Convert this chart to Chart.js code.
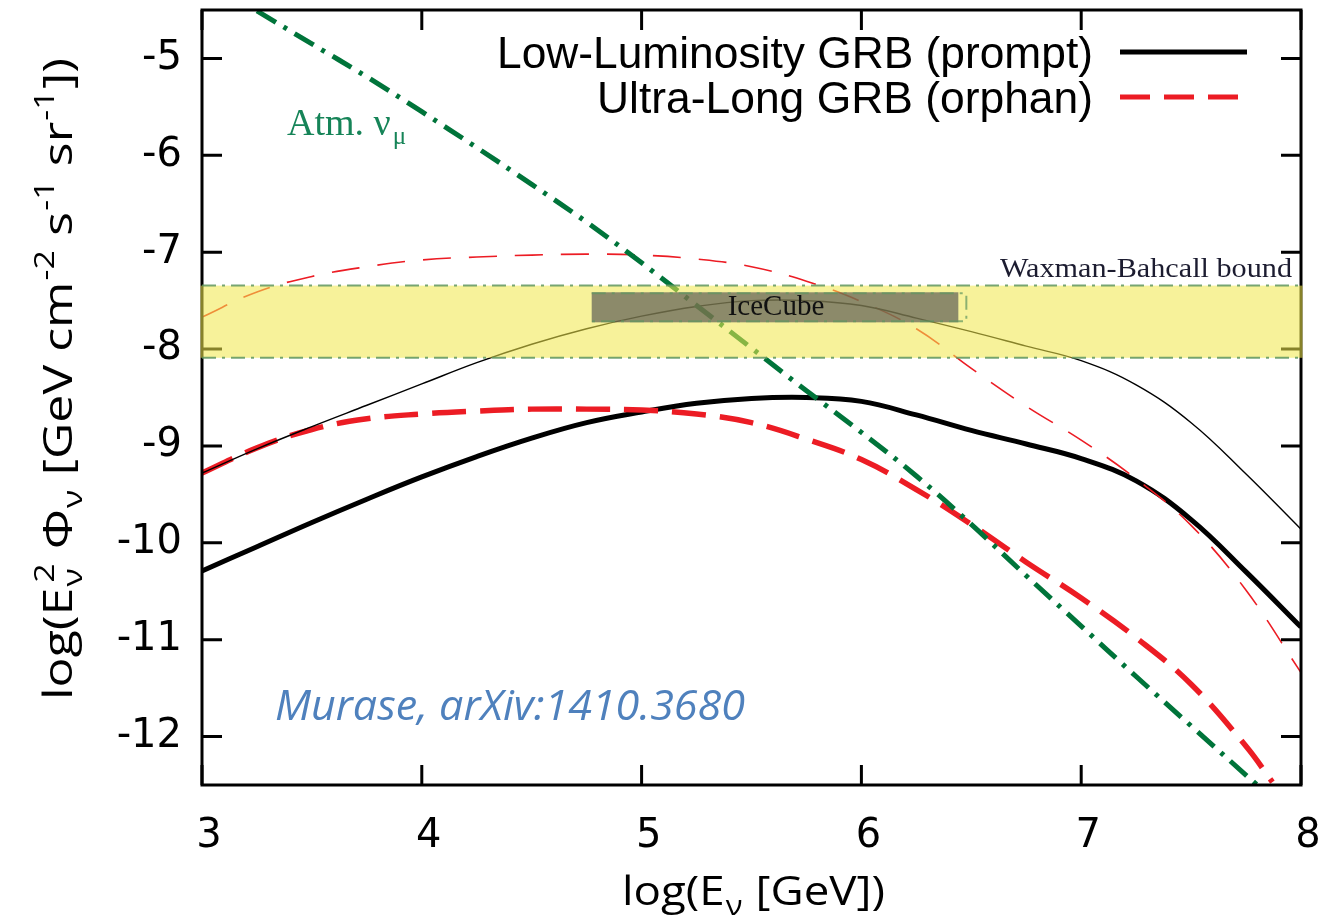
<!DOCTYPE html>
<html>
<head>
<meta charset="utf-8">
<script src="https://cdn.jsdelivr.net/npm/chart.js@4.4.1/dist/chart.umd.min.js"></script>
<style>
  html, body { margin: 0; padding: 0; background: #fff; }
</style>
</head>
<body>
<canvas id="fluxChart" width="1325" height="919"></canvas>
<script>
// axis ticks
const xTicks = [3, 4, 5, 6, 7, 8];
const yTicks = [-12, -11, -10, -9, -8, -7, -6, -5];

// log10(E / GeV) grid shared by the model curves
const logE = [3.0, 3.25, 3.5, 3.75, 4.0, 4.25, 4.5, 4.75, 5.0, 5.25, 5.5, 5.75, 6.0, 6.25, 6.5, 6.75, 7.0, 7.25, 7.5, 7.75, 8.0];

// Low-luminosity GRB, prompt (thick solid)
const llPrompt   = [-10.29, -10.04, -9.79, -9.55, -9.32, -9.11, -8.92, -8.76, -8.65, -8.56, -8.51, -8.50, -8.54, -8.68, -8.84, -8.98, -9.13, -9.36, -9.76, -10.30, -10.87];
// Low-luminosity GRB, prompt (thin solid)
const llPromptHi = [-9.28, -9.03, -8.80, -8.58, -8.36, -8.14, -7.95, -7.79, -7.66, -7.56, -7.50, -7.50, -7.55, -7.68, -7.82, -7.97, -8.12, -8.37, -8.76, -9.29, -9.86];
// Ultra-long GRB, orphan (thin dashed)
const ulOrphanHi = [-7.67, -7.41, -7.25, -7.15, -7.08, -7.05, -7.03, -7.02, -7.03, -7.07, -7.15, -7.30, -7.51, -7.79, -8.20, -8.59, -8.94, -9.34, -9.82, -10.49, -11.34];

// Ultra-long GRB, orphan (thick dashed) runs out through the bottom of the frame
const ulOrphanE    = [3.0, 3.25, 3.5, 3.75, 4.0, 4.25, 4.5, 4.75, 5.0, 5.25, 5.5, 5.75, 6.0, 6.25, 6.5, 6.75, 7.0, 7.25, 7.5, 7.75, 7.87];
const ulOrphanFlux = [-9.28, -9.02, -8.83, -8.72, -8.67, -8.64, -8.62, -8.62, -8.63, -8.67, -8.76, -8.93, -9.14, -9.45, -9.81, -10.20, -10.57, -10.98, -11.46, -12.10, -12.47];

// atmospheric muon neutrinos
const atmE    = [3.25, 3.5, 3.75, 4.0, 4.25, 4.5, 4.75, 5.0, 5.25, 5.5, 5.75, 6.0, 6.25, 6.5, 6.75, 7.0, 7.25, 7.5, 7.8];
const atmFlux = [-4.51, -4.85, -5.19, -5.55, -5.92, -6.30, -6.69, -7.11, -7.55, -7.99, -8.43, -8.86, -9.31, -9.81, -10.34, -10.86, -11.38, -11.89, -12.50];

// Waxman-Bahcall band and IceCube box (log E, log flux)
const wbBand = [-7.345, -8.09];
const iceCubeE = [4.773, 6.441];
const iceCubeFlux = [-7.414, -7.724];

const legendLabels = ['Low-Luminosity GRB (prompt)', 'Ultra-Long GRB (orphan)'];

const pts = (xs, ys) => xs.map((v, i) => ({ x: v, y: ys[i] }));

const RED = 'rgb(236,28,36)';
const GREEN = 'rgb(0,116,58)';

function line(data, color, width, dash) {
  return {
    data, borderColor: color, borderWidth: width, borderDash: dash || [],
    pointRadius: 0, fill: false, tension: 0.4, borderCapStyle: 'butt'
  };
}

const datasets = [
  line(pts(atmE, atmFlux), GREEN, 5, [22, 9, 4, 9]),
  line(pts(logE, llPromptHi), '#000', 1.4),
  line(pts(logE, ulOrphanHi), RED, 1.6, [28, 18]),
  line(pts(ulOrphanE, ulOrphanFlux), RED, 5.5, [34, 14]),
  line(pts(logE, llPrompt), '#000', 5)
];

// text squeezed/stretched horizontally to a given width
function fitText(ctx, text, x, y, width, font, align) {
  ctx.font = font;
  const k = width / ctx.measureText(text).width;
  ctx.save();
  ctx.translate(x, y);
  ctx.scale(k, 1);
  ctx.textAlign = align || 'left';
  ctx.textBaseline = 'alphabetic';
  ctx.fillText(text, 0, 0);
  ctx.restore();
}

// text with sub/superscripts; returns its width
function rich(ctx, parts, size, family, draw) {
  let x = 0;
  for (const [t, kind] of parts) {
    if (kind === 'n') {
      ctx.font = size + 'px ' + family;
      if (draw) ctx.fillText(t, x, 0);
      x += ctx.measureText(t).width;
    } else if (kind === 'sub' || kind === 'sup') {
      ctx.font = (size * 0.68) + 'px ' + family;
      const dy = kind === 'sub' ? size * 0.26 : -size * 0.45;
      if (draw) ctx.fillText(t, x + 1, dy);
      x += ctx.measureText(t).width + 2;
    } else if (kind === 'subsup') {
      const [a, b] = t.split('|');
      ctx.font = (size * 0.68) + 'px ' + family;
      if (draw) {
        ctx.fillText(a, x + 1, size * 0.26);
        ctx.fillText(b, x + 4, -size * 0.45);
      }
      x += Math.max(ctx.measureText(a).width, ctx.measureText(b).width + 3) + 2;
    }
  }
  return x;
}

function drawRich(ctx, parts, x, y, width, size, family, angle) {
  ctx.save();
  const w = rich(ctx, parts, size, family, false);
  ctx.translate(x, y);
  if (angle) ctx.rotate(angle);
  ctx.scale(width / w, 1);
  ctx.textBaseline = 'alphabetic';
  ctx.textAlign = 'left';
  rich(ctx, parts, size, family, true);
  ctx.restore();
}

const decorations = {
  id: 'decorations',
  afterDatasetsDraw(chart) {
    const { ctx, chartArea: a, scales: { x, y } } = chart;
    ctx.save();

    // frame with inward ticks on all four sides
    ctx.strokeStyle = '#000';
    ctx.lineWidth = 3;
    ctx.strokeRect(a.left, a.top, a.right - a.left, a.bottom - a.top);
    ctx.beginPath();
    xTicks.forEach(v => {
      const px = x.getPixelForValue(v);
      ctx.moveTo(px, a.bottom); ctx.lineTo(px, a.bottom - 20);
      ctx.moveTo(px, a.top); ctx.lineTo(px, a.top + 20);
    });
    yTicks.forEach(v => {
      const py = y.getPixelForValue(v);
      ctx.moveTo(a.left, py); ctx.lineTo(a.left + 20, py);
      ctx.moveTo(a.right, py); ctx.lineTo(a.right - 20, py);
    });
    ctx.stroke();

    // Waxman-Bahcall band
    const bTop = y.getPixelForValue(wbBand[0]);
    const bBot = y.getPixelForValue(wbBand[1]);
    ctx.fillStyle = 'rgba(241,232,75,0.56)';
    ctx.fillRect(a.left - 1.5, bTop, a.right - a.left + 3, bBot - bTop);
    ctx.strokeStyle = 'rgba(95,150,95,0.85)';
    ctx.lineWidth = 2;
    ctx.setLineDash([14, 6, 3, 6]);
    ctx.beginPath();
    ctx.moveTo(a.left, bTop); ctx.lineTo(a.right, bTop);
    ctx.moveTo(a.left, bBot); ctx.lineTo(a.right, bBot);
    ctx.stroke();

    // IceCube box
    const ix0 = x.getPixelForValue(iceCubeE[0]);
    const ix1 = x.getPixelForValue(iceCubeE[1]);
    const iy0 = y.getPixelForValue(iceCubeFlux[0]);
    const iy1 = y.getPixelForValue(iceCubeFlux[1]);
    ctx.fillStyle = 'rgba(78,78,78,0.64)';
    ctx.fillRect(ix0, iy0, ix1 - ix0, iy1 - iy0);
    ctx.strokeStyle = 'rgba(95,150,95,0.7)';
    ctx.beginPath();
    ctx.moveTo(ix0, iy0 + 1); ctx.lineTo(ix1 + 8, iy0 + 1); ctx.lineTo(ix1 + 8, iy1 - 1); ctx.lineTo(ix0, iy1 - 1);
    ctx.stroke();
    ctx.setLineDash([]);

    ctx.fillStyle = '#111';
    ctx.font = '29px "Liberation Serif"';
    ctx.textAlign = 'center';
    ctx.fillText('IceCube', (ix0 + ix1) / 2 + 1, iy1 - 7);

    ctx.fillStyle = '#1c1c30';
    fitText(ctx, 'Waxman-Bahcall bound', a.right - 9, bTop - 9, 292, '27px "Liberation Serif"', 'right');

    // atmospheric label
    ctx.fillStyle = 'rgb(22,132,88)';
    ctx.textAlign = 'left';
    ctx.font = '38px "Liberation Serif"';
    ctx.fillText('Atm. ν', 287, 135);
    const w = ctx.measureText('Atm. ν').width;
    ctx.font = '25px "Liberation Serif"';
    ctx.fillText('μ', 287 + w + 2, 144);

    // citation
    ctx.fillStyle = 'rgb(79,129,189)';
    fitText(ctx, 'Murase, arXiv:1410.3680', 275, 720, 470, 'italic 42px "Open Sans"', 'left');

    // legend
    ctx.fillStyle = '#000';
    fitText(ctx, legendLabels[0], 1093, 68, 596, '44px "Liberation Sans"', 'right');
    fitText(ctx, legendLabels[1], 1093, 113, 496, '44px "Liberation Sans"', 'right');
    ctx.lineWidth = 5;
    ctx.strokeStyle = '#000';
    ctx.beginPath(); ctx.moveTo(1120, 52); ctx.lineTo(1247, 52); ctx.stroke();
    ctx.strokeStyle = RED;
    ctx.setLineDash([30, 14]);
    ctx.beginPath(); ctx.moveTo(1120, 97); ctx.lineTo(1247, 97); ctx.stroke();
    ctx.setLineDash([]);

    // axis titles
    ctx.fillStyle = '#000';
    drawRich(ctx, [['log(E', 'n'], ['ν', 'sub'], [' [GeV])', 'n']], 622, 905, 263, 40, '"Open Sans"');
    drawRich(ctx, [['log(E', 'n'], ['ν|2', 'subsup'], [' Φ', 'n'], ['ν', 'sub'], [' [GeV cm', 'n'], ['-2', 'sup'],
                   [' s', 'n'], ['-1', 'sup'], [' sr', 'n'], ['-1', 'sup'], ['])', 'n']],
             72, 700, 642, 40, '"Open Sans"', -Math.PI / 2);

    ctx.restore();
  }
};

// keep the plot frame fixed: no extra room for overhanging tick labels
function noPad(s) {
  s.paddingLeft = 0; s.paddingRight = 0; s.paddingTop = 0; s.paddingBottom = 0;
}

new Chart(document.getElementById('fluxChart').getContext('2d'), {
  type: 'line',
  data: { datasets },
  options: {
    responsive: false,
    animation: false,
    layout: { padding: { top: 10, right: 24, left: 0, bottom: 0 } },
    plugins: { legend: { display: false }, tooltip: { enabled: false } },
    scales: {
      x: {
        type: 'linear', min: 3, max: 8,
        grid: { display: false }, border: { display: false },
        afterBuildTicks: s => { s.ticks = xTicks.map(v => ({ value: v })); },
        afterFit: s => { s.height = 134; noPad(s); },
        ticks: {
          color: '#000', font: { family: 'DejaVu Sans', size: 40 },
          padding: 20, labelOffset: 7, maxRotation: 0, callback: v => String(v)
        }
      },
      y: {
        type: 'linear', min: -12.5, max: -4.5,
        grid: { display: false }, border: { display: false },
        afterBuildTicks: s => { s.ticks = yTicks.map(v => ({ value: v })); },
        afterFit: s => { s.width = 202; noPad(s); },
        ticks: {
          color: '#000', font: { family: 'DejaVu Sans', size: 40 },
          padding: 12, callback: v => String(v)
        }
      }
    }
  },
  plugins: [decorations]
});
</script>
</body>
</html>
